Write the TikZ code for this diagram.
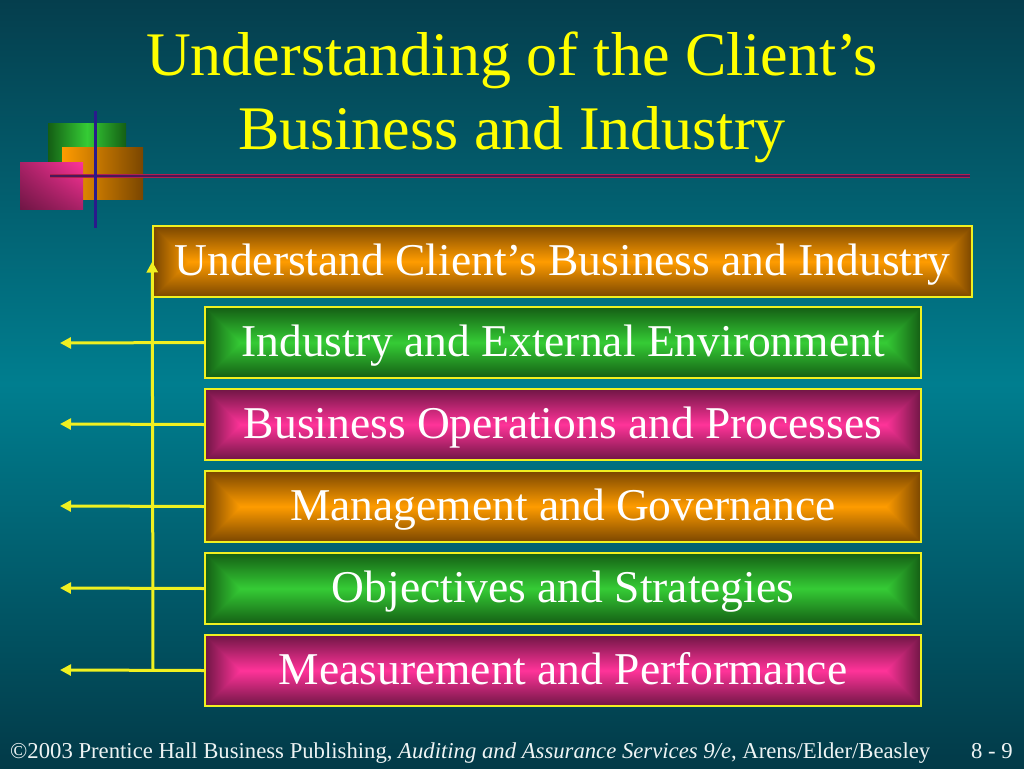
\documentclass[tikz,border=0pt]{standalone}
\usepackage{fontspec}
\setmainfont{Liberation Serif}
\usetikzlibrary{arrows.meta,shadings}
\definecolor{bgtop}{HTML}{053E4D}
\definecolor{bgmid}{HTML}{007E8F}
\definecolor{bgbot}{HTML}{023A48}
\definecolor{titleyellow}{HTML}{FFFF00}
\definecolor{lineyellow}{HTML}{F0F020}
\definecolor{orangeD}{HTML}{7A4600}
\definecolor{orangeL}{HTML}{FF9C00}
\definecolor{greenD}{HTML}{145E14}
\definecolor{greenL}{HTML}{35CC35}
\definecolor{pinkD}{HTML}{701645}
\definecolor{pinkL}{HTML}{FF3399}
\definecolor{navyline}{HTML}{2A1A8C}
\definecolor{purpline}{HTML}{4A1858}
\definecolor{redline}{HTML}{B02050}
\definecolor{foottext}{HTML}{EEF4F4}
\tikzset{
  boxtext/.style={text=white,font=\fontsize{45.5}{50}\selectfont,inner sep=0pt,anchor=base},
  boxframe/.style={draw=lineyellow,line width=1.5pt,inner sep=0pt},
  connector/.style={draw=lineyellow,line width=3pt},
  tipped/.style={connector,-{Triangle[length=11pt,width=11pt]}},
  foot/.style={text=foottext,font=\fontsize{22.7}{26}\selectfont,inner sep=0pt},
}
\newcommand\bevelbox[7]{%
  \shade[top color=#6D,bottom color=#6D,middle color=#6L] (#2,#3) rectangle (#4,#5);
  \shade[left color=#6D,right color=#6L] (#2,#3) -- ({#2+(#5-#3)/2},{(#3+#5)/2}) -- (#2,#5) -- cycle;
  \shade[left color=#6L,right color=#6D] (#4,#3) -- ({#4-(#5-#3)/2},{(#3+#5)/2}) -- (#4,#5) -- cycle;
  \node[boxframe,minimum width={(#4-#2)*1pt},minimum height={(#5-#3)*1pt}] (#1) at ({(#2+#4)/2},{(#3+#5)/2}) {};
  \node[boxtext] (#1-t) at ({(#2+#4)/2},{#3+49.5}) {#7};
}
\begin{document}
\begin{tikzpicture}[x=1pt,y=-1pt]
\useasboundingbox (0,0) rectangle (1024,768);
% background
\shade[top color=bgtop,bottom color=bgbot,middle color=bgmid] (0,0) rectangle (1024,768);
% title
\node[text=titleyellow,font=\fontsize{62}{74}\selectfont,align=center,inner sep=0pt] (title) at (512,97) {Understanding of the Client’s\\Business and Industry};
% decoration
\shade[left color=greenD,right color=greenD,middle color=greenL] (48,123) rectangle (126,175);
\shade[left color=orangeL,right color=orangeD] (62,147) rectangle (143,199);
\shade[upper right=pinkL,lower left=pinkD,upper left=pinkD!60!pinkL,lower right=pinkD!60!pinkL] (20,162) rectangle (83,209);
\draw[redline,line width=4pt] (50,176) -- (970,176);
\draw[purpline,line width=2.2pt] (50,176) -- (970,176);
\draw[navyline,line width=3pt] (95,111) -- (95,228);
% boxes
\bevelbox{b0}{153}{226}{972}{297}{orange}{Understand Client’s Business and Industry}
\bevelbox{b1}{205}{307}{921}{378}{green}{Industry and External Environment}
\bevelbox{b2}{205}{389}{921}{460}{pink}{Business Operations and Processes}
\bevelbox{b3}{205}{471}{921}{542}{orange}{Management and Governance}
\bevelbox{b4}{205}{553}{921}{624}{green}{Objectives and Strategies}
\bevelbox{b5}{205}{635}{921}{706}{pink}{Measurement and Performance}
% connectors
\coordinate (a1) at (60,343);
\coordinate (a2) at (60,424);
\coordinate (a3) at (60,506);
\coordinate (a4) at (60,588);
\coordinate (a5) at (60,670);
\coordinate (stem) at (153,670);
\draw[tipped] (b1.west) -- (a1);
\draw[tipped] (b2.west) -- (a2);
\draw[tipped] (b3.west) -- (a3);
\draw[tipped] (b4.west) -- (a4);
\draw[tipped] (b5.west) -- (a5);
\draw[tipped] (stem) -- (b0.west);
% footer
\node[foot,anchor=base west] (footer) at (10,758) {©2003 Prentice Hall Business Publishing, \textit{Auditing and Assurance Services 9/e}, Arens/Elder/Beasley};
\node[foot,anchor=base east] (page) at (1013,758) {8 - 9};
\end{tikzpicture}
\end{document}
